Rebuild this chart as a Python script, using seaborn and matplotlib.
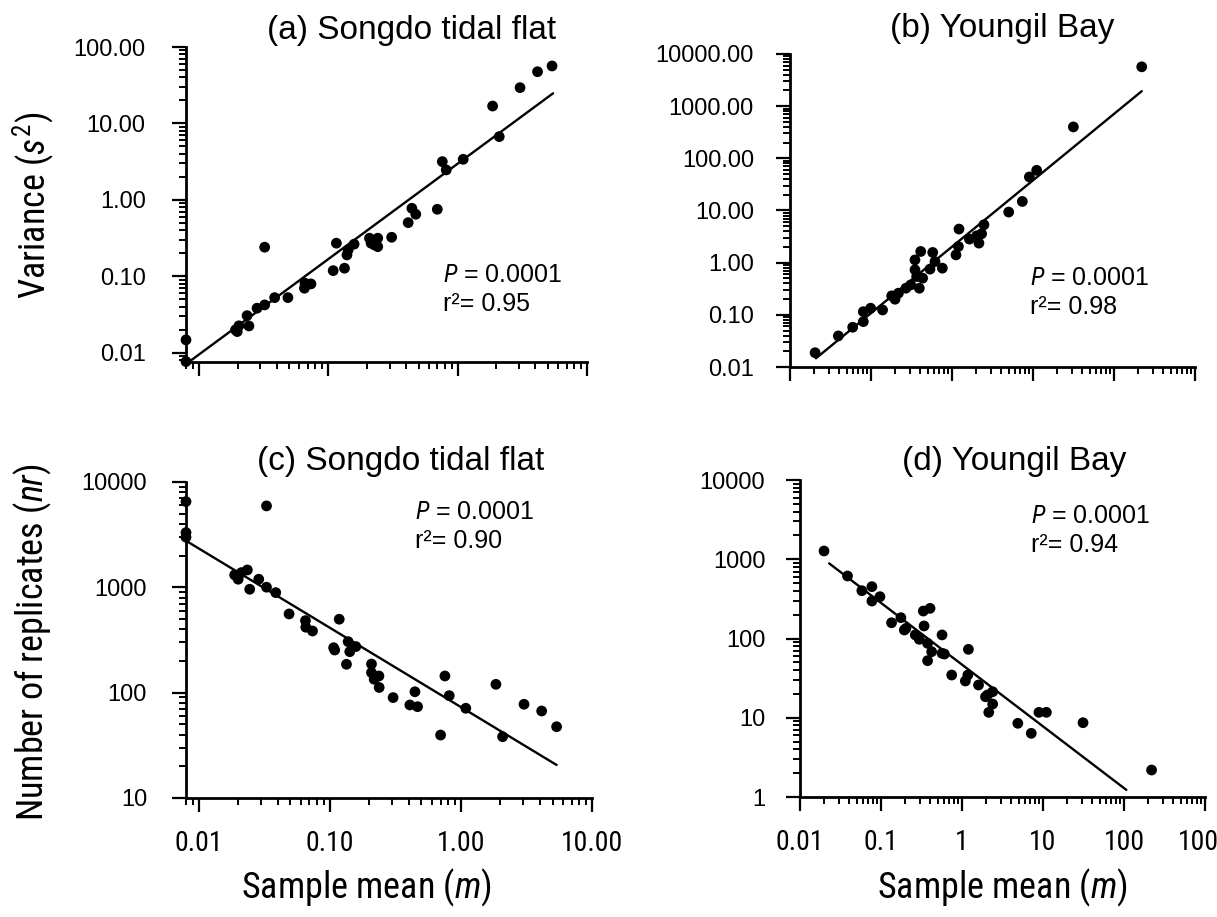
import numpy as np
import pandas as pd
import matplotlib
matplotlib.use("Agg")
import matplotlib.pyplot as plt
import seaborn as sns
from matplotlib import font_manager
from matplotlib.ticker import FixedLocator, FixedFormatter, LogLocator, NullFormatter

# (a) Songdo tidal flat: sample mean vs variance
a_mean = [0.008, 0.008, 0.0193, 0.0199, 0.0205, 0.0237, 0.0245, 0.0283, 0.0324, 0.0324,
          0.0387, 0.049, 0.0657, 0.0664, 0.0738, 0.1096, 0.116, 0.134, 0.140, 0.143,
          0.159, 0.209, 0.215, 0.228, 0.242, 0.242, 0.310, 0.416, 0.444, 0.476,
          0.698, 0.763, 0.818, 1.106, 1.866, 2.10, 3.04, 4.15, 5.37]
a_var = [0.0148, 0.0077, 0.020, 0.019, 0.0226, 0.0307, 0.0225, 0.0384, 0.0424, 0.241,
         0.0528, 0.0528, 0.0701, 0.0815, 0.0798, 0.119, 0.272, 0.128, 0.191, 0.222,
         0.264, 0.316, 0.272, 0.258, 0.316, 0.245, 0.325, 0.505, 0.778, 0.650,
         0.755, 3.17, 2.47, 3.40, 16.9, 6.73, 29.4, 47.5, 56.5]

# (b) Youngil Bay: sample mean vs variance
b_mean = [0.0204, 0.0395, 0.0594, 0.0804, 0.0804, 0.099, 0.139, 0.180, 0.198, 0.218,
          0.270, 0.309, 0.349, 0.349, 0.395, 0.411, 0.366, 0.434, 0.535, 0.578,
          0.617, 0.760, 1.12, 1.20, 1.22, 1.64, 2.02, 2.15, 2.32, 2.48,
          5.01, 7.38, 9.02, 11.1, 31.5, 220]
b_var = [0.0188, 0.0394, 0.0578, 0.0741, 0.115, 0.134, 0.124, 0.231, 0.199, 0.260,
         0.324, 0.375, 1.13, 0.729, 0.324, 1.64, 0.542, 0.505, 0.752, 1.57,
         1.05, 0.785, 1.41, 2.04, 4.41, 2.83, 3.27, 2.37, 3.58, 5.33,
         9.33, 14.9, 44.0, 58.9, 400, 5680]

# (c) Songdo tidal flat: sample mean vs number of replicates
c_mean = [0.008, 0.008, 0.008, 0.0329, 0.0188, 0.0200, 0.0212, 0.0235, 0.0245, 0.0287,
          0.0329, 0.0387, 0.0489, 0.0652, 0.0656, 0.0738, 0.118, 0.107, 0.109, 0.134,
          0.138, 0.142, 0.158, 0.208, 0.208, 0.218, 0.237, 0.238, 0.304, 0.408,
          0.446, 0.467, 0.700, 0.755, 0.815, 1.09, 1.85, 2.08, 3.03, 4.13, 5.37]
c_nr = [6520, 3310, 2990, 5930, 1312, 1194, 1380, 1462, 959, 1194,
        1003, 891, 559, 483, 418, 385, 498, 267, 254, 186,
        305, 245, 274, 187, 155, 134, 144, 112, 89.8, 76.4,
        102, 73.6, 39.6, 144, 93.7, 71.1, 120, 38.2, 77.6, 67.0, 47.5]

# (d) Youngil Bay: sample mean vs number of replicates
d_mean = [0.0198, 0.0386, 0.0580, 0.0772, 0.0772, 0.097, 0.135, 0.176, 0.194, 0.203,
          0.265, 0.297, 0.333, 0.403, 0.340, 0.376, 0.376, 0.422, 0.567, 0.567,
          0.606, 0.746, 1.10, 1.18, 1.20, 1.60, 1.95, 2.07, 2.14, 2.39,
          2.39, 4.89, 7.16, 8.91, 11.0, 31.2, 219]
d_nr = [1271, 615, 401, 451, 297, 337, 158, 183, 128, 134,
        111, 97.7, 222, 240, 144, 87.0, 52.5, 68.2, 111, 65.0,
        63.7, 34.6, 29.1, 34.6, 73.0, 25.9, 18.4, 19.4, 11.7, 14.9,
        21.3, 8.51, 6.36, 11.7, 11.7, 8.66, 2.19]

# power-law fits y = coef * x ** slope, and the x span of each fitted line
fit_a = [2.97, 1.249]
fit_b = [2.02, 1.273]
fit_c = [73.0, -0.753]
fit_d = [46.8, -0.779]
span_a = [0.0085, 5.47]
span_b = [0.0209, 220]
span_c = [0.0078, 5.37]
span_d = [0.0229, 107]

stats_a = ["0.0001", "0.95"]
stats_b = ["0.0001", "0.98"]
stats_c = ["0.0001", "0.90"]
stats_d = ["0.0001", "0.94"]

titles = ["(a) Songdo tidal flat", "(b) Youngil Bay", "(c) Songdo tidal flat", "(d) Youngil Bay"]

a_yticks = [0.01, 0.1, 1, 10, 100]
a_ylabels = ["0.01", "0.10", "1.00", "10.00", "100.00"]
a_xticks = [0.01, 0.1, 1, 10]
b_yticks = [0.01, 0.1, 1, 10, 100, 1000, 10000]
b_ylabels = ["0.01", "0.10", "1.00", "10.00", "100.00", "1000.00", "10000.00"]
b_xticks = [0.01, 0.1, 1, 10, 100, 1000]
c_yticks = [10, 100, 1000, 10000]
c_ylabels = ["10", "100", "1000", "10000"]
c_xticks = [0.01, 0.1, 1, 10]
c_xlabels = ["0.01", "0.10", "1.00", "10.00"]
d_yticks = [1, 10, 100, 1000, 10000]
d_ylabels = ["1", "10", "100", "1000", "10000"]
d_xticks = [0.01, 0.1, 1, 10, 100, 1000]
d_xlabels = ["0.01", "0.1", "1", "10", "100", "1000"]

sns.set_theme(style="ticks")

# condensed face for the axis titles, if one is installed
names = {f.name for f in font_manager.fontManager.ttflist}
narrow = None
for cand in ["Liberation Sans Narrow", "Arial Narrow", "Roboto Condensed",
             "DejaVu Sans Condensed", "Open Sans Condensed", "Noto Sans Condensed"]:
    if cand in names:
        narrow = cand
        break
if narrow is None:
    narrow = "Liberation Sans"
    lab_size = 22
else:
    lab_size = 26

plt.rcParams["font.family"] = ["Liberation Sans", "DejaVu Sans"]
plt.rcParams["mathtext.fontset"] = "custom"
plt.rcParams["mathtext.rm"] = narrow
plt.rcParams["mathtext.it"] = narrow + ":italic"
plt.rcParams["axes.linewidth"] = 2.0
plt.rcParams["text.color"] = "black"
plt.rcParams["axes.labelcolor"] = "black"
plt.rcParams["xtick.color"] = "black"
plt.rcParams["ytick.color"] = "black"
plt.rcParams["axes.edgecolor"] = "black"

W, H = 1217, 917
fig = plt.figure(figsize=(W / 100, H / 100), dpi=100)
fig.patch.set_facecolor("white")


def box(l, t, r, b):
    return [l / W, 1 - b / H, (r - l) / W, (b - t) / H]


def panel(rect, x, y, fit, span, xlim, ylim, xticks, xlabels, yticks, ylabels, ypad):
    ax = fig.add_axes(rect)
    ax.set_facecolor("white")
    ax.set_xscale("log")
    ax.set_yscale("log")
    df = pd.DataFrame({"mean": x, "val": y})
    sns.scatterplot(data=df, x="mean", y="val", ax=ax, color="black", s=60,
                    edgecolor="none", clip_on=False, zorder=3)
    xs = np.array(span)
    line = pd.DataFrame({"mean": xs, "val": fit[0] * xs ** fit[1]})
    sns.lineplot(data=line, x="mean", y="val", ax=ax, color="black", lw=1.7)
    ax.set_xlim(xlim)
    ax.set_ylim(ylim)
    ax.xaxis.set_major_locator(FixedLocator(xticks))
    ax.yaxis.set_major_locator(FixedLocator(yticks))
    ax.xaxis.set_minor_locator(LogLocator(base=10, subs=np.arange(2, 10)))
    ax.yaxis.set_minor_locator(LogLocator(base=10, subs=np.arange(2, 10)))
    ax.xaxis.set_minor_formatter(NullFormatter())
    ax.yaxis.set_minor_formatter(NullFormatter())
    if xlabels:
        ax.xaxis.set_major_formatter(FixedFormatter(xlabels))
    else:
        ax.xaxis.set_major_formatter(NullFormatter())
    ax.yaxis.set_major_formatter(FixedFormatter(ylabels))
    ax.tick_params(which="major", direction="out", length=10, width=1.6, color="black")
    ax.tick_params(which="minor", direction="out", length=5, width=1.4, color="black")
    ax.tick_params(axis="y", which="major", labelsize=17, pad=ypad, labelcolor="black")
    ax.tick_params(axis="x", which="major", labelsize=20, pad=13, labelcolor="black")
    for lab in ax.get_xticklabels():
        lab.set_family(narrow)
    ax.set_xlabel("")
    ax.set_ylabel("")
    sns.despine(ax=ax)
    return ax


ax_a = panel(box(186, 47, 587, 362), a_mean, a_var, fit_a, span_a, (0.008, 10), (0.0076, 100),
             a_xticks, None, a_yticks, a_ylabels, 19)
ax_b = panel(box(790, 54, 1195, 367), b_mean, b_var, fit_b, span_b, (0.01, 1000), (0.01, 10000),
             b_xticks, None, b_yticks, b_ylabels, 16)
ax_c = panel(box(186, 482, 592, 798), c_mean, c_nr, fit_c, span_c, (0.008, 10), (10, 10000),
             c_xticks, c_xlabels, c_yticks, c_ylabels, 18)
ax_d = panel(box(800, 480, 1205, 797), d_mean, d_nr, fit_d, span_d, (0.01, 1000), (1, 10000),
             d_xticks, d_xlabels, d_yticks, d_ylabels, 15)


def ftext(x, y, s, **kw):
    fig.text(x / W, 1 - y / H, s, **kw)


# panel titles
ftext(412, 30, titles[0], fontsize=24, ha="center", va="center")
ftext(1002, 28, titles[1], fontsize=24, ha="center", va="center")
ftext(401, 462, titles[2], fontsize=24, ha="center", va="center")
ftext(1014, 462, titles[3], fontsize=24, ha="center", va="center")

# statistics
for (x, y), st in zip([(443, 275), (1030, 278), (415, 512), (1031, 516)],
                      [stats_a, stats_b, stats_c, stats_d]):
    ftext(x, y, r"$\mathit{P}$" + " = " + st[0], fontsize=18, ha="left", va="center")
    ftext(x, y + 29, "r\u00b2= " + st[1], fontsize=18, ha="left", va="center")

# axis titles
ftext(33, 205, r"Variance ($\mathit{s}^{2}$)", fontsize=lab_size, rotation=90,
      ha="center", va="center", family=narrow)
ftext(33, 642, r"Number of replicates ($\mathit{nr}$)", fontsize=lab_size, rotation=90,
      ha="center", va="center", family=narrow)
ftext(366, 888, r"Sample mean ($\mathit{m}$)", fontsize=lab_size, ha="center", va="center",
      family=narrow)
ftext(1002, 888, r"Sample mean ($\mathit{m}$)", fontsize=lab_size, ha="center", va="center",
      family=narrow)

fig.savefig("out.png", dpi=100, facecolor="white")
